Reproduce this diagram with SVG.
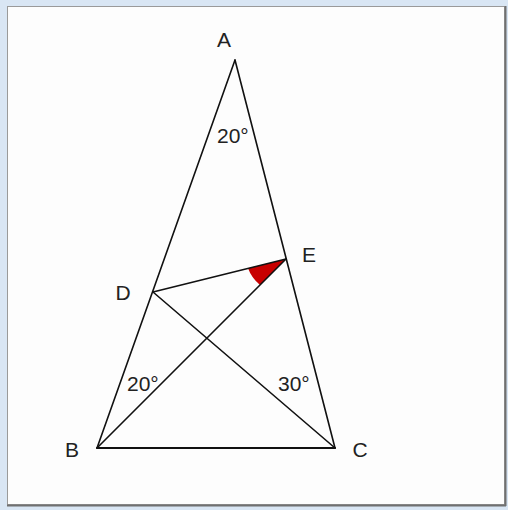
<svg xmlns="http://www.w3.org/2000/svg" width="508" height="510" viewBox="0 0 508 510">
<style>
.ln{stroke:#111;stroke-width:1.6;fill:none;stroke-linecap:round}
.lb{font-family:"Liberation Sans",Arial,sans-serif;font-size:21px;fill:#222}
.an{font-family:"Liberation Sans",Arial,sans-serif;font-size:21px;fill:#222}
</style>
<rect x="0" y="0" width="508" height="510" fill="#d9e6f4"/>
<g id="frame">
<rect x="7.5" y="6.5" width="497" height="498" fill="#fdfdfd" stroke="#9a9a9a" stroke-width="1"/>
<line x1="505.5" y1="6" x2="505.5" y2="506" stroke="#707070" stroke-width="2"/>
<line x1="7" y1="505.5" x2="506" y2="505.5" stroke="#707070" stroke-width="2"/>
</g>
<g id="mark">
<path d="M286,259 L248,268.3 A39,39 0 0 0 260,285 Z" fill="#c80000"/>
</g>
<g id="connectors">
<line class="ln" x1="235" y1="60" x2="97" y2="448"/>
<line class="ln" x1="235" y1="60" x2="335" y2="448"/>
<line class="ln" x1="97" y1="448" x2="335" y2="448" style="stroke-width:2"/>
<line class="ln" x1="153" y1="292" x2="286" y2="259"/>
<line class="ln" x1="153" y1="292" x2="335" y2="448"/>
<line class="ln" x1="97" y1="448" x2="286" y2="259"/>
</g>
<g id="A"><text class="lb" x="224" y="47" text-anchor="middle">A</text></g>
<g id="B"><text class="lb" x="72" y="457" text-anchor="middle">B</text></g>
<g id="C"><text class="lb" x="360" y="457" text-anchor="middle">C</text></g>
<g id="D"><text class="lb" x="123" y="300" text-anchor="middle">D</text></g>
<g id="E"><text class="lb" x="309" y="262" text-anchor="middle">E</text></g>
<g id="angles">
<text class="an" x="217" y="143">20°</text>
<text class="an" x="127" y="391">20°</text>
<text class="an" x="278" y="391">30°</text>
</g>
</svg>
